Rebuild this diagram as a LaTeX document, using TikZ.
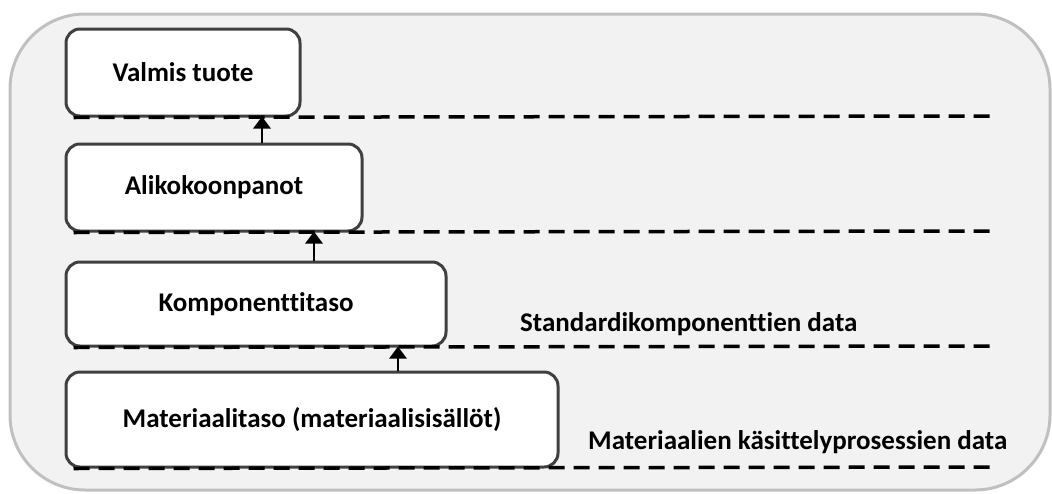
\documentclass[tikz,border=0pt]{standalone}
\usepackage{fontspec}
\setmainfont{Carlito}[Ligatures=NoCommon]
\usetikzlibrary{arrows.meta}
\definecolor{outerfill}{HTML}{F2F2F2}
\definecolor{outerdraw}{HTML}{C0C0C0}
\definecolor{boxdraw}{HTML}{404040}
\begin{document}
\begin{tikzpicture}[x=1pt,y=-1pt,
  levelbox/.style={draw=boxdraw, line width=3pt, fill=white, rounded corners=14pt, inner sep=0pt, font=\bfseries\fontsize{27}{31}\selectfont},
  sepline/.style={draw=black, line width=3.5pt, dash pattern=on 16pt off 9pt},
  uparrow/.style={draw=black, line width=2.8pt, -{Triangle[length=12pt,width=17pt]}},
  datalabel/.style={anchor=west, inner sep=0pt, font=\bfseries\fontsize{27}{31}\selectfont}]
\useasboundingbox (0,0) rectangle (1052,493);
\node[draw=outerdraw, line width=3pt, fill=outerfill, rounded corners=75pt, minimum width=1040pt, minimum height=476pt, inner sep=0pt] (outer) at (530,252) {};
\node[levelbox, minimum width=234pt, minimum height=87pt] (b1) at (183,72.5) {Valmis tuote};
\node[levelbox, minimum width=296pt, minimum height=87pt] (b2) at (214,187.5) {Alikokoonpanot};
\node[levelbox, minimum width=380pt, minimum height=84pt] (b3) at (256,304) {Komponenttitaso};
\node[levelbox, minimum width=492pt, minimum height=95pt] (b4) at (312,419.5) {Materiaalitaso (materiaalisisällöt)};
\coordinate (x1) at (262,0);
\coordinate (x2) at (314,0);
\coordinate (x3) at (398,0);
\coordinate (e1) at (990,116);
\coordinate (e2) at (990,231);
\coordinate (e3) at (998,346);
\coordinate (e4) at (998,467);
\draw[sepline] ([xshift=9pt]b1.south west) -- (e1);
\draw[sepline] ([xshift=9pt]b2.south west) -- (e2);
\draw[sepline] ([xshift=9pt]b3.south west) -- (e3);
\draw[sepline] ([xshift=9pt]b4.south west) -- (e4);
\draw[uparrow] (b2.north -| x1) -- ([yshift=1pt]b1.south -| x1);
\draw[uparrow] (b3.north -| x2) -- ([yshift=1pt]b2.south -| x2);
\draw[uparrow] (b4.north -| x3) -- ([yshift=1pt]b3.south -| x3);
\node[datalabel] (l1) at (520,324) {Standardikomponenttien data};
\node[datalabel] (l2) at (588,442) {Materiaalien käsittelyprosessien data};
\end{tikzpicture}
\end{document}
